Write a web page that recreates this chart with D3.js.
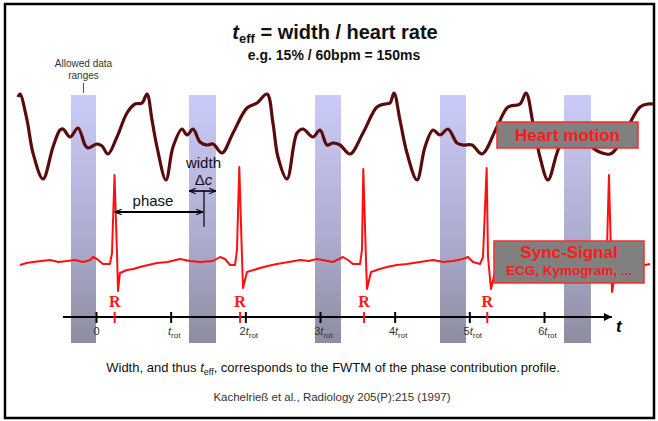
<!DOCTYPE html>
<html lang="en">
<head>
<meta charset="UTF-8">
<title>t_eff = width / heart rate</title>
<script src="https://cdn.jsdelivr.net/npm/d3@7"></script>
<style>
  body { margin: 0; background: #fff; }
  text { font-family: "Liberation Sans", Arial, sans-serif; }
</style>
</head>
<body>
<script>
// time is in units of t_rot
var tickValues = [0, 1, 2, 3, 4, 5, 6];
var tickPrefix = ["0", "", "2", "3", "4", "5", "6"];
var rPeaks = [0.25, 1.93, 3.59, 5.24];
var bands = [[-0.335, 0.0], [1.245, 1.607], [2.933, 3.281], [4.607, 4.955], [6.268, 6.629]];

// heart motion: [t, displacement]
var heart = [
  [-1.045, 83], [-1.018, 86], [-0.924, 60], [-0.844, 27], [-0.710, 1], [-0.576, 33],
  [-0.482, 50], [-0.442, 51], [-0.348, 43], [-0.241, 52], [-0.147, 35], [-0.107, 32],
  [0.013, 36], [0.080, 34], [0.161, 26], [0.281, 43], [0.415, 67], [0.522, 76],
  [0.616, 77], [0.683, 86], [0.750, 60], [0.817, 33], [0.937, 0], [1.031, 33],
  [1.152, 51], [1.219, 45], [1.299, 51], [1.393, 38], [1.487, 35], [1.567, 36],
  [1.687, 27], [1.835, 47], [2.022, 72], [2.156, 77], [2.290, 86], [2.370, 57],
  [2.437, 23], [2.558, 1], [2.692, 47], [2.772, 51], [2.906, 43], [3.000, 50],
  [3.094, 35], [3.174, 37], [3.268, 35], [3.402, 26], [3.576, 47], [3.763, 73],
  [3.870, 76], [3.937, 77], [3.991, 87], [4.071, 60], [4.165, 27], [4.299, 0],
  [4.406, 33], [4.513, 50], [4.607, 45], [4.714, 51], [4.835, 37], [4.915, 35],
  [5.036, 35], [5.169, 26], [5.370, 53], [5.518, 73], [5.678, 76], [5.759, 87],
  [5.852, 57], [5.946, 23], [6.053, 0], [6.174, 27], [6.281, 47], [6.375, 50],
  [6.455, 44], [6.535, 50], [6.656, 32], [6.884, 26], [7.018, 37], [7.152, 57],
  [7.286, 73], [7.393, 76], [7.460, 76]
];

// sync signal (ECG): [t, amplitude]
var ecg = [
  [-1.018, 0], [-0.93, 2], [-0.844, 3], [-0.73, 4], [-0.616, 5], [-0.50, 3], [-0.388, 4],
  [-0.28, 5], [-0.174, 3], [-0.080, 5], [-0.040, 8], [0.013, 6], [0.094, 1], [0.187, 1],
  [0.214, 12], [0.248, 90], [0.281, 12], [0.295, -26], [0.321, -8], [0.415, -5],
  [0.50, -4], [0.589, -2], [0.70, 0], [0.817, 2], [0.96, 3], [1.125, 6], [1.26, 4], [1.393, 3],
  [1.567, 4], [1.661, 8], [1.728, 6], [1.795, 0], [1.862, 0], [1.888, 15], [1.919, 98],
  [1.955, 8], [1.969, -23], [2.022, -7], [2.196, -3], [2.30, -1], [2.424, 1], [2.58, 3], [2.732, 5],
  [2.85, 4], [2.960, 6], [3.174, 3], [3.308, 8], [3.375, 5], [3.442, 1], [3.536, 1],
  [3.562, 15], [3.580, 96], [3.616, 5], [3.629, -24], [3.683, -7], [3.80, -4], [3.897, -2],
  [4.03, 0], [4.165, 1], [4.339, 3], [4.513, 5], [4.65, 3], [4.781, 4], [4.915, 6], [4.982, 8],
  [5.049, 3], [5.143, 1], [5.183, 8], [5.232, 97], [5.250, 8], [5.290, -24], [5.343, -7],
  [5.544, -3], [5.812, 0], [6.214, 4], [6.616, 4], [6.683, 8], [6.750, 5], [6.817, 1],
  [6.843, 15], [6.870, 90], [6.897, 10], [6.911, -27], [6.951, -9], [7.152, -3], [7.420, 1]
];

var width = 658, height = 421;
var svg = d3.select("body").append("svg").attr("width", width).attr("height", height);

var x = d3.scaleLinear().domain([0, 6]).range([96, 544]);
var yHeart = d3.scaleLinear().domain([0, 87]).range([180, 93]);
var yEcg = d3.scaleLinear().domain([0, 100]).range([265, 165]);
var axisY = 317;

var defs = svg.append("defs");
var grad = defs.append("linearGradient").attr("id", "bandGrad")
  .attr("x1", 0).attr("y1", 0).attr("x2", 0).attr("y2", 1);
grad.append("stop").attr("offset", "0%").attr("stop-color", "#cbcbf9");
grad.append("stop").attr("offset", "55%").attr("stop-color", "#aeaed2");
grad.append("stop").attr("offset", "100%").attr("stop-color", "#8d8da0");

defs.append("marker").attr("id", "arr").attr("viewBox", "0 0 10 10")
  .attr("refX", 10).attr("refY", 5).attr("markerWidth", 7).attr("markerHeight", 7)
  .attr("markerUnits", "userSpaceOnUse").attr("orient", "auto-start-reverse")
  .append("path").attr("d", "M0,1 L10,5 L0,9").attr("fill", "none").attr("stroke", "#000").attr("stroke-width", 1.6);
defs.append("marker").attr("id", "axArr").attr("viewBox", "0 0 10 10")
  .attr("refX", 10).attr("refY", 5).attr("markerWidth", 10).attr("markerHeight", 8)
  .attr("markerUnits", "userSpaceOnUse").attr("orient", "auto")
  .append("path").attr("d", "M0,0 L10,5 L0,10 Z").attr("fill", "#000");

// frame
svg.append("rect").attr("x", 5).attr("y", 4).attr("width", 649).attr("height", 414)
  .attr("fill", "#fff").attr("stroke", "#000").attr("stroke-width", 2.5);

// allowed data ranges
svg.selectAll(".band").data(bands).enter().append("rect")
  .attr("class", "band")
  .attr("x", function(d) { return x(d[0]); })
  .attr("width", function(d) { return x(d[1]) - x(d[0]); })
  .attr("y", 95).attr("height", 248)
  .attr("fill", "url(#bandGrad)");

var bx = (x(bands[0][0]) + x(bands[0][1])) / 2;
svg.append("text").attr("x", bx).attr("y", 67).attr("text-anchor", "middle")
  .attr("font-size", 10).attr("fill", "#333").text("Allowed data");
svg.append("text").attr("x", bx).attr("y", 79).attr("text-anchor", "middle")
  .attr("font-size", 10).attr("fill", "#333").text("ranges");
svg.append("line").attr("x1", bx).attr("x2", bx).attr("y1", 83).attr("y2", 93)
  .attr("stroke", "#555").attr("stroke-width", 1);

// time axis
svg.append("line").attr("x1", x(-0.442)).attr("x2", x(6.91)).attr("y1", axisY).attr("y2", axisY)
  .attr("stroke", "#000").attr("stroke-width", 2).attr("marker-end", "url(#axArr)");
var axis = d3.axisBottom(x).tickValues(tickValues).tickSize(0).tickFormat("");
var gAxis = svg.append("g").attr("transform", "translate(0," + axisY + ")").call(axis);
gAxis.select(".domain").remove();
gAxis.selectAll(".tick text").remove();
gAxis.selectAll(".tick line").attr("y1", -5).attr("y2", 6).attr("stroke", "#000").attr("stroke-width", 2);
gAxis.selectAll(".tick").each(function(d, i) {
  var t = d3.select(this).append("text").attr("x", i === 0 ? 0 : 3).attr("y", 18)
    .attr("text-anchor", "middle").attr("font-size", 11).attr("fill", "#333")
    .style("font-family", "Liberation Sans, Arial, sans-serif");
  if (i === 0) { t.text("0"); return; }
  t.append("tspan").text(tickPrefix[i]);
  t.append("tspan").attr("font-style", "italic").text("t");
  t.append("tspan").attr("font-size", 8).attr("dy", 3).text("rot");
});
svg.append("text").attr("x", 616).attr("y", 332).attr("font-size", 17)
  .attr("font-weight", "bold").attr("font-style", "italic").text("t");

// R markers
svg.selectAll(".rtick").data(rPeaks).enter().append("line").attr("class", "rtick")
  .attr("x1", function(d) { return x(d); }).attr("x2", function(d) { return x(d); })
  .attr("y1", axisY - 5).attr("y2", axisY + 6).attr("stroke", "#ff1a1a").attr("stroke-width", 2);
svg.selectAll(".rlab").data(rPeaks).enter().append("text").attr("class", "rlab")
  .attr("x", function(d) { return x(d); }).attr("y", 307).attr("text-anchor", "middle")
  .style("font-family", "'Liberation Serif', 'Times New Roman', serif").attr("font-weight", "bold")
  .attr("font-size", 16).attr("fill", "#ff1a1a").text("R");

// curves
var heartLine = d3.line().x(function(d) { return x(d[0]); }).y(function(d) { return yHeart(d[1]); })
  .curve(d3.curveCatmullRom.alpha(0.5));
svg.append("path").datum(heart).attr("d", heartLine).attr("fill", "none")
  .attr("stroke", "#5a0b0b").attr("stroke-width", 3.2).attr("stroke-linejoin", "round");

var ecgLine = d3.line().x(function(d) { return x(d[0]); }).y(function(d) { return yEcg(d[1]); });
svg.append("path").datum(ecg).attr("d", ecgLine).attr("fill", "none")
  .attr("stroke", "#ff1010").attr("stroke-width", 2).attr("stroke-linejoin", "round");

// phase / width annotation
var phaseEnd = 1.433, cutT = 1.446;
svg.append("line").attr("x1", x(rPeaks[0])).attr("x2", x(phaseEnd))
  .attr("y1", yEcg(53)).attr("y2", yEcg(53)).attr("stroke", "#000").attr("stroke-width", 2)
  .attr("marker-start", "url(#arr)").attr("marker-end", "url(#arr)");
svg.append("line").attr("x1", x(cutT)).attr("x2", x(cutT)).attr("y1", yEcg(74)).attr("y2", yEcg(38))
  .attr("stroke", "#000").attr("stroke-width", 1.2);
svg.append("line").attr("x1", x(bands[1][0])).attr("x2", x(bands[1][1]))
  .attr("y1", yEcg(74)).attr("y2", yEcg(74)).attr("stroke", "#000").attr("stroke-width", 1.6)
  .attr("marker-start", "url(#arr)").attr("marker-end", "url(#arr)");
svg.append("text").attr("x", 153).attr("y", 206).attr("text-anchor", "middle")
  .attr("font-size", 15).attr("fill", "#111").text("phase");
var wx = (x(bands[1][0]) + x(bands[1][1])) / 2;
svg.append("text").attr("x", wx + 1).attr("y", 168).attr("text-anchor", "middle")
  .attr("font-size", 15).attr("fill", "#111").text("width");
var dc = svg.append("text").attr("x", wx + 1).attr("y", 185).attr("text-anchor", "middle")
  .attr("font-size", 15).attr("fill", "#111");
dc.append("tspan").text("\u0394");
dc.append("tspan").attr("font-style", "italic").text("c");

// label boxes
svg.append("rect").attr("x", 497).attr("y", 122).attr("width", 141).attr("height", 26)
  .attr("fill", "#808080").attr("stroke", "#ff2a2a").attr("stroke-width", 1.5);
svg.append("text").attr("x", 567.5).attr("y", 141).attr("text-anchor", "middle")
  .attr("font-size", 17).attr("font-weight", "bold").attr("fill", "#ff1a1a").text("Heart motion");
svg.append("rect").attr("x", 494).attr("y", 241).attr("width", 150).attr("height", 42)
  .attr("fill", "#808080").attr("stroke", "#ff2a2a").attr("stroke-width", 1.5);
svg.append("text").attr("x", 569).attr("y", 258).attr("text-anchor", "middle")
  .attr("font-size", 17).attr("font-weight", "bold").attr("fill", "#ff1a1a").text("Sync-Signal");
svg.append("text").attr("x", 569).attr("y", 275).attr("text-anchor", "middle")
  .attr("font-size", 13.5).attr("font-weight", "bold").attr("fill", "#ff1a1a").text("ECG, Kymogram, ...");

// titles
var title = svg.append("text").attr("x", 335).attr("y", 39).attr("text-anchor", "middle")
  .attr("font-size", 20).attr("font-weight", "bold").attr("fill", "#111");
title.append("tspan").attr("font-style", "italic").text("t");
title.append("tspan").attr("font-size", 13).attr("dy", 4).text("eff");
title.append("tspan").attr("dy", -4).text(" = width / heart rate");
svg.append("text").attr("x", 334).attr("y", 60).attr("text-anchor", "middle")
  .attr("font-size", 14).attr("font-weight", "bold").attr("fill", "#111")
  .text("e.g. 15% / 60bpm = 150ms");

var note = svg.append("text").attr("x", 333).attr("y", 372).attr("text-anchor", "middle")
  .attr("font-size", 13).attr("fill", "#111");
note.append("tspan").text("Width, and thus ");
note.append("tspan").attr("font-style", "italic").text("t");
note.append("tspan").attr("font-size", 9).attr("dy", 3).text("eff");
note.append("tspan").attr("dy", -3).text(", corresponds to the FWTM of the phase contribution profile.");
svg.append("text").attr("x", 332).attr("y", 401).attr("text-anchor", "middle")
  .attr("font-size", 11.5).attr("fill", "#333")
  .text("Kachelrie\u00df et al., Radiology 205(P):215 (1997)");
</script>
</body>
</html>
